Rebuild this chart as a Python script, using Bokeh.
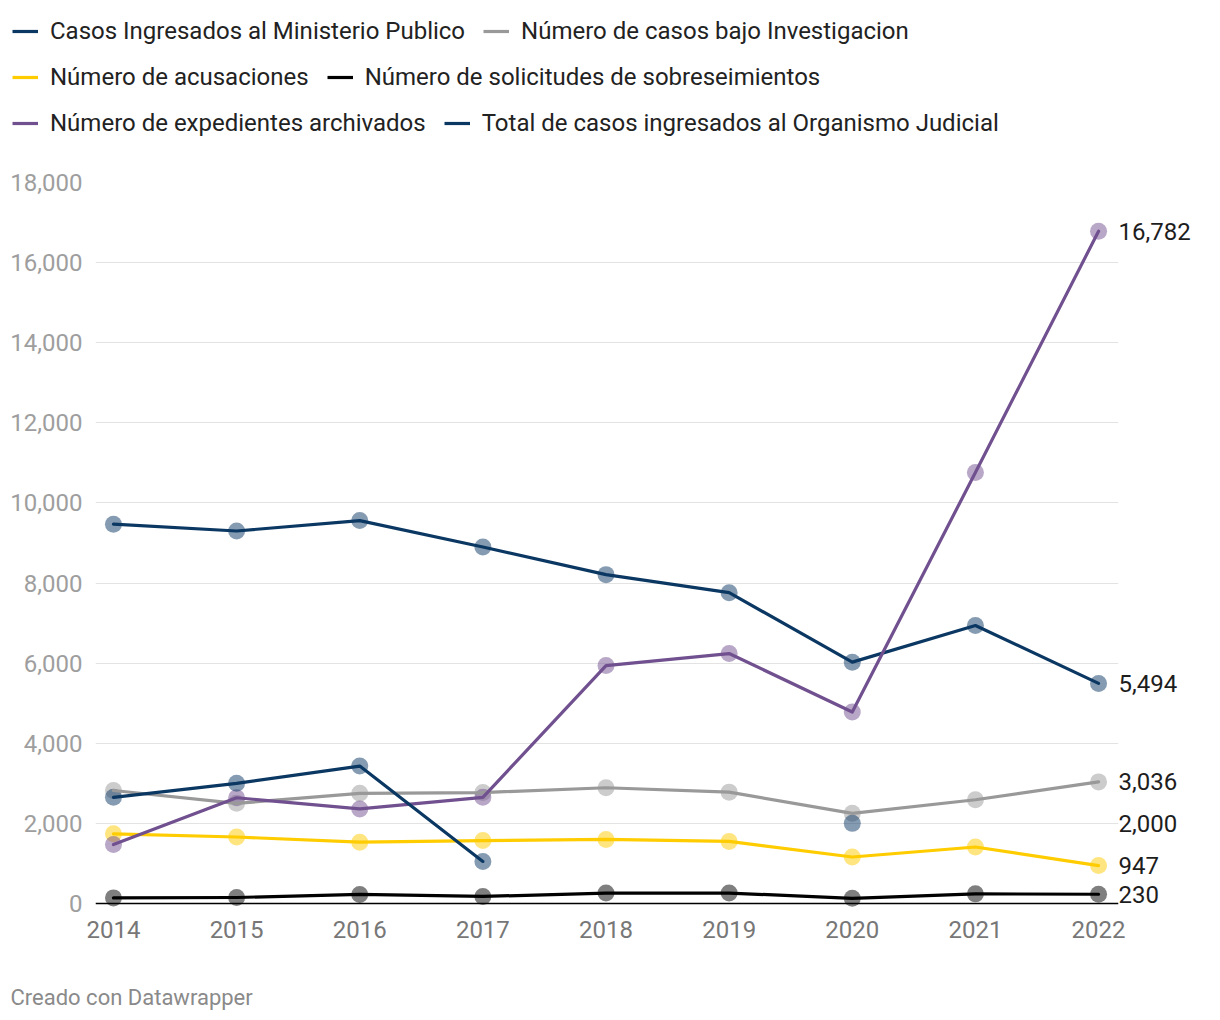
import math
from bokeh.plotting import figure
from bokeh.layouts import column
from bokeh.models import (ColumnDataSource, Legend, LegendItem, Span, Label, LinearAxis,
                          FixedTicker, NumeralTickFormatter, Range1d)
from bokeh.embed import file_html
from bokeh.resources import INLINE

nan = float("nan")

years = [2014, 2015, 2016, 2017, 2018, 2019, 2020, 2021, 2022]
casos_mp = [9470, 9300, 9560, 8900, 8210, 7760, 6025, 6940, 5494]
bajo_inv = [2820, 2500, 2750, 2770, 2890, 2780, 2250, 2590, 3036]
acusaciones = [1740, 1660, 1530, 1570, 1600, 1550, 1160, 1410, 947]
sobreseimientos = [140, 150, 225, 175, 260, 260, 130, 240, 230]
archivados = [1470, 2640, 2360, 2650, 5940, 6240, 4780, 10760, 16782]
total_oj = [2650, 3000, 3430, 1050, nan, nan, 2000, nan, nan]

series_names = [
    "Casos Ingresados al Ministerio Publico",
    "Número de casos bajo Investigacion",
    "Número de acusaciones",
    "Número de solicitudes de sobreseimientos",
    "Número de expedientes archivados",
    "Total de casos ingresados al Organismo Judicial",
]
series_values = [casos_mp, bajo_inv, acusaciones, sobreseimientos, archivados, total_oj]
series_colors = ["#0b3763", "#999999", "#ffcc00", "#000000", "#71508f", "#0b3763"]
y_ticks = list(range(0, 18001, 2000))
footer_text = "Creado con Datawrapper"

FONT = "Roboto"
FS = "24px"
LW = 3.2


def blank_figure(h):
    f = figure(width=1220, height=h, x_range=Range1d(0, 1), y_range=Range1d(0, 1),
               output_backend="svg", toolbar_location=None, min_border=0,
               frame_align=False)
    f.axis.visible = False
    f.grid.visible = False
    f.outline_line_color = None
    return f


# ---------- legend strip ----------
# legend renderers carry the series data; this strip's ranges keep the lines out of view
pl = blank_figure(150)
leg_renderers = []
for vals, col in zip(series_values, series_colors):
    leg_renderers.append(pl.line(x=years, y=vals, line_color=col, line_width=LW))
rows = [(0, 1, 105), (2, 3, 59), (4, 5, 13)]
for a, b, yb in rows:
    items = [LegendItem(label=series_names[i], renderers=[leg_renderers[i]]) for i in (a, b)]
    leg = Legend(items=items, orientation="horizontal", location=(12, yb),
                 padding=0, margin=0, spacing=18, glyph_width=26, glyph_height=26,
                 label_height=26, label_standoff=12,
                 label_text_font=FONT, label_text_font_size=FS,
                 label_text_color="#222222", border_line_color=None,
                 background_fill_alpha=0)
    pl.add_layout(leg, "center")

# ---------- main chart ----------
p = figure(width=1220, height=810,
           x_range=Range1d(2013.854, 2022.162), y_range=Range1d(-300, 18000),
           output_backend="svg", toolbar_location=None,
           min_border_left=95, min_border_right=102,
           min_border_top=32, min_border_bottom=45, frame_align=False)
p.outline_line_color = None

p.xaxis.ticker = FixedTicker(ticks=years)
p.xaxis.axis_line_color = None
p.xaxis.major_tick_line_color = None
p.xaxis.minor_tick_line_color = None
p.xaxis.major_tick_out = 0
p.xaxis.major_tick_in = 0
p.xaxis.major_label_standoff = 5
p.xaxis.major_label_text_font = FONT
p.xaxis.major_label_text_font_size = FS
p.xaxis.major_label_text_color = "#777777"

p.yaxis.ticker = FixedTicker(ticks=y_ticks)
p.yaxis.formatter = NumeralTickFormatter(format="0,0")
p.yaxis.axis_line_color = None
p.yaxis.major_tick_line_color = None
p.yaxis.minor_tick_line_color = None
p.yaxis.major_tick_out = 0
p.yaxis.major_tick_in = 0
p.yaxis.major_label_standoff = 13
p.yaxis.major_label_text_font = FONT
p.yaxis.major_label_text_font_size = FS
p.yaxis.major_label_text_color = "#9e9e9e"

p.xgrid.grid_line_color = None
p.ygrid.ticker = FixedTicker(ticks=y_ticks)
p.ygrid.grid_line_color = "#e3e3e3"
p.ygrid.grid_line_width = 1

p.add_layout(Span(location=0, dimension="width", line_color="#000000", line_width=1.5))

for vals, col in zip(series_values, series_colors):
    src = ColumnDataSource(dict(x=years, y=vals))
    p.scatter("x", "y", source=src, size=17, fill_color=col, fill_alpha=0.5,
              line_color=None)
for vals, col in zip(series_values, series_colors):
    src = ColumnDataSource(dict(x=years, y=vals))
    p.line("x", "y", source=src, line_color=col, line_width=LW,
           line_join="round", line_cap="round")

# end-value labels as a right-hand axis
end_vals = [[v for v in vals if not math.isnan(v)][-1] for vals in series_values]
right_axis = LinearAxis(ticker=FixedTicker(ticks=end_vals),
                        major_label_overrides={v: f"{v:,.0f}" for v in end_vals},
                        axis_line_color=None, major_tick_line_color=None,
                        minor_tick_line_color=None, major_tick_out=0, major_tick_in=0,
                        major_label_standoff=0, major_label_text_font=FONT,
                        major_label_text_font_size=FS,
                        major_label_text_color="#1d1d1d")
p.add_layout(right_axis, "right")

# ---------- footer ----------
pf = blank_figure(60)
pf.add_layout(Label(x=10, y=23, x_units="screen", y_units="screen", text=footer_text,
                    text_font=FONT, text_font_size="22px", text_color="#8a8a8a",
                    text_baseline="middle", text_align="left"))

layout = column(pl, p, pf, spacing=0)
open("out.html", "w").write(file_html(layout, INLINE))
